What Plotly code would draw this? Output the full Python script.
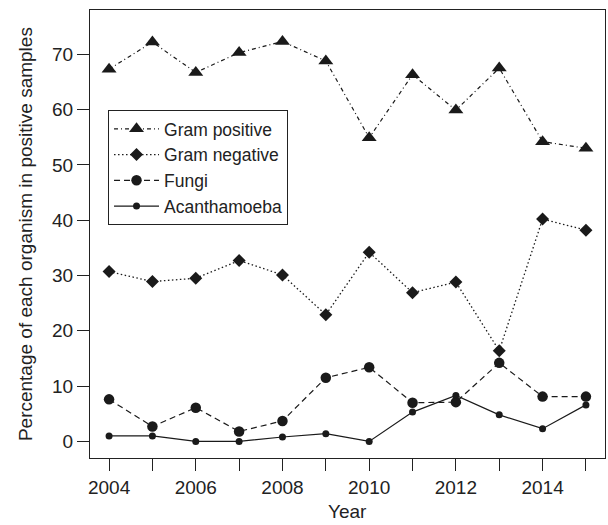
import plotly.graph_objects as go

years = [2004, 2005, 2006, 2007, 2008, 2009, 2010, 2011, 2012, 2013, 2014, 2015]
gram_positive = [67.3, 72.2, 66.7, 70.3, 72.3, 68.8, 54.9, 66.3, 59.9, 67.5, 54.2, 53.0]
gram_negative = [30.7, 28.9, 29.5, 32.7, 30.1, 22.9, 34.2, 26.9, 28.8, 16.4, 40.2, 38.2]
fungi = [7.6, 2.7, 6.1, 1.8, 3.7, 11.5, 13.4, 7.0, 7.1, 14.2, 8.1, 8.1]
acanthamoeba = [1.0, 1.0, 0.0, 0.0, 0.8, 1.4, 0.0, 5.3, 8.3, 4.8, 2.3, 6.6]

x_tick_vals = years
x_tick_text = ["2004", "", "2006", "", "2008", "", "2010", "", "2012", "", "2014", ""]
y_tick_vals = [0, 10, 20, 30, 40, 50, 60, 70]

INK = "#1a1a1a"
FONT = "Liberation Sans, Arial, Helvetica, sans-serif"

fig = go.Figure()
fig.add_trace(go.Scatter(x=years, y=gram_positive, name="Gram positive", mode="lines+markers",
                         line=dict(color=INK, width=1.2, dash="4px,3px,1px,3px"),
                         marker=dict(symbol="triangle-up", size=13, color=INK)))
fig.add_trace(go.Scatter(x=years, y=gram_negative, name="Gram negative", mode="lines+markers",
                         line=dict(color=INK, width=1.3, dash="1.5px,2.5px"),
                         marker=dict(symbol="diamond", size=10, color=INK)))
fig.add_trace(go.Scatter(x=years, y=fungi, name="Fungi", mode="lines+markers",
                         line=dict(color=INK, width=1.2, dash="6px,4px"),
                         marker=dict(symbol="circle", size=10.5, color=INK)))
fig.add_trace(go.Scatter(x=years, y=acanthamoeba, name="Acanthamoeba", mode="lines+markers",
                         line=dict(color=INK, width=1.2),
                         marker=dict(symbol="circle", size=7, color=INK)))

fig.update_layout(
    width=608, height=525,
    margin=dict(l=90, r=3, t=10, b=67, autoexpand=False),
    paper_bgcolor="white", plot_bgcolor="white",
    font=dict(family=FONT, size=19, color="#222"),
    showlegend=True,
    legend=dict(x=0.035, y=0.777, xanchor="left", yanchor="top",
                bordercolor="#222", borderwidth=1, bgcolor="white",
                itemwidth=45,
                font=dict(size=17.5, color="#222"), tracegroupgap=0),
    xaxis=dict(range=[2003.56, 2015.44], tickvals=x_tick_vals, ticktext=x_tick_text,
               ticks="outside", ticklen=12, tickcolor="#222", tickwidth=1,
               showline=True, mirror=True, linecolor="#222", linewidth=1,
               showgrid=False, zeroline=False, automargin=False),
    yaxis=dict(range=[-3, 78], tickvals=y_tick_vals,
               ticks="outside", ticklen=12, tickcolor="#222", tickwidth=1,
               showline=True, mirror=True, linecolor="#222", linewidth=1,
               showgrid=False, zeroline=False, automargin=False),
    annotations=[
        dict(text="Year", xref="paper", yref="paper", x=0.5, y=-0.119,
             xanchor="center", yanchor="middle", showarrow=False,
             font=dict(size=19, color="#222")),
        dict(text="Percentage of each organism in positive samples", xref="paper", yref="paper",
             x=-0.126, y=0.5, xanchor="center", yanchor="middle", textangle=-90,
             showarrow=False, font=dict(size=19, color="#222")),
    ],
)

fig.write_html("out.html", config={"displayModeBar": False},
               post_script="document.body.style.margin='0';document.body.style.overflow='hidden';")
